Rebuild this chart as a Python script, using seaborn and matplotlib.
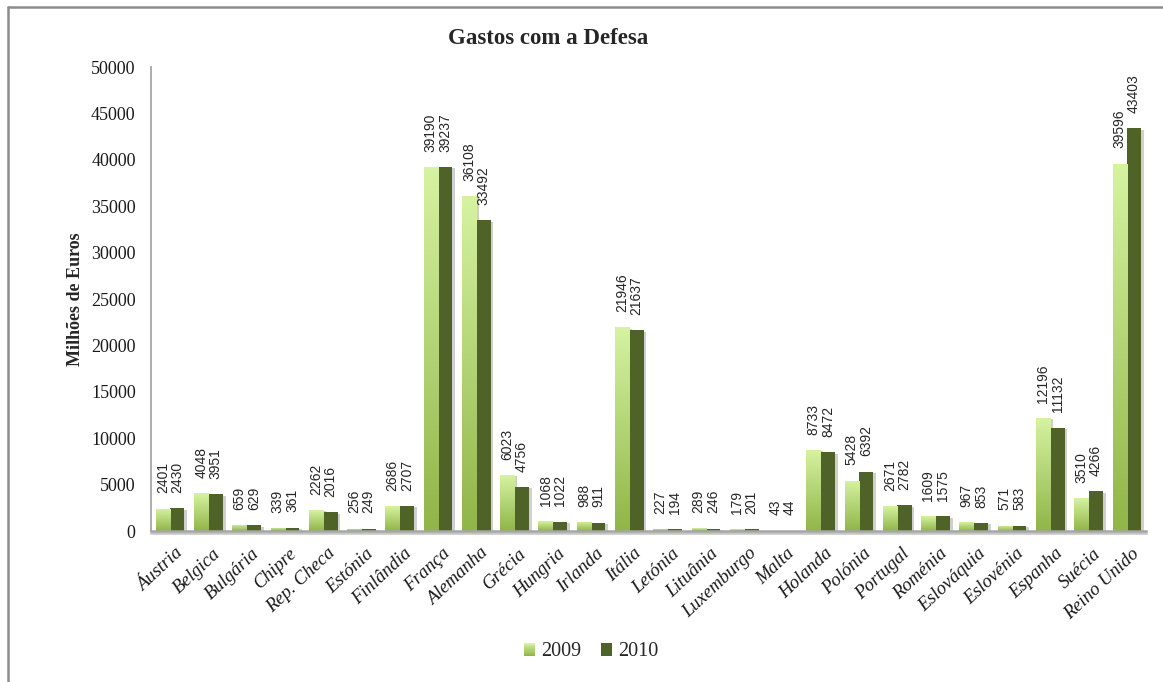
import numpy as np
import pandas as pd
import matplotlib
matplotlib.use("Agg")
import matplotlib.pyplot as plt
import matplotlib.patheffects as pe
import matplotlib.transforms as mtransforms
from matplotlib.patches import Rectangle
from matplotlib.lines import Line2D
from matplotlib.legend_handler import HandlerBase
from matplotlib.colors import to_rgb
import seaborn as sns

countries = ["Áustria", "Belgica", "Bulgária", "Chipre", "Rep. Checa", "Estónia",
             "Finlândia", "França", "Alemanha", "Grécia", "Hungria", "Irlanda",
             "Itália", "Letónia", "Lituânia", "Luxemburgo", "Malta", "Holanda",
             "Polónia", "Portugal", "Roménia", "Eslováquia", "Eslovénia", "Espanha",
             "Suécia", "Reino Unido"]
gastos_2009 = [2401, 4048, 659, 339, 2262, 256, 2686, 39190, 36108, 6023, 1068, 988,
               21946, 227, 289, 179, 43, 8733, 5428, 2671, 1609, 967, 571, 12196,
               3510, 39596]
gastos_2010 = [2430, 3951, 629, 361, 2016, 249, 2707, 39237, 33492, 4756, 1022, 911,
               21637, 194, 246, 201, 44, 8472, 6392, 2782, 1575, 853, 583, 11132,
               4266, 43403]
years = ["2009", "2010"]

df = pd.DataFrame({
    "pais": countries * 2,
    "ano": [years[0]] * len(countries) + [years[1]] * len(countries),
    "valor": gastos_2009 + gastos_2010,
})

LIGHT_TOP = "#d6f3a2"
LIGHT_BOTTOM = "#90b548"
DARK = "#4f6228"
SERIF = "Liberation Serif"

sns.set_theme(style="white")
plt.rcParams["font.family"] = ["Liberation Serif", "DejaVu Serif"]

fig = plt.figure(figsize=(11.63, 6.82), dpi=100)
ax = fig.add_axes([151 / 1163, 1 - 531 / 682, (1146 - 151) / 1163, (531 - 67) / 682])

sns.barplot(data=df, x="pais", y="valor", hue="ano", order=countries,
            hue_order=years, palette=[LIGHT_BOTTOM, DARK], width=0.75,
            saturation=1, legend=False, ax=ax, edgecolor="none", linewidth=0)

ax.set_ylim(0, 50000)
ax.set_xlim(-0.5, len(countries) - 0.5)
ax.set_yticks(np.arange(0, 50001, 5000))
ax.set_yticklabels([str(v) for v in range(0, 50001, 5000)], fontsize=13,
                   family=SERIF, color="#1a1a1a")
ax.tick_params(axis="y", length=0, pad=11)
ax.tick_params(axis="x", length=0, pad=10)
ax.set_xticks(range(len(countries)))
ax.set_xticklabels(countries, rotation=43, ha="right", va="top",
                   rotation_mode="anchor", fontsize=13.5, style="italic",
                   family=SERIF, color="#1a1a1a")
shift = mtransforms.ScaledTranslation(4 / 100, 0, fig.dpi_scale_trans)
for lbl in ax.get_xticklabels():
    lbl.set_transform(lbl.get_transform() + shift)
ax.set_xlabel("")
ax.set_ylabel("Milhões de Euros", fontsize=13, fontweight="bold", family=SERIF,
              labelpad=5)

for side in ["top", "right"]:
    ax.spines[side].set_visible(False)
ax.spines["left"].set_color("#a6a6a6")
ax.spines["left"].set_linewidth(1.3)
ax.spines["bottom"].set_color("#a6a6a6")
ax.spines["bottom"].set_linewidth(1.8)
ax.spines["bottom"].set_path_effects([pe.SimpleLineShadow(offset=(0, -1.5), alpha=0.25),
                                      pe.Normal()])

# vertical gradient for the 2009 series
n = 256
c_top = np.array(to_rgb(LIGHT_TOP))
c_bot = np.array(to_rgb(LIGHT_BOTTOM))
t = np.linspace(0, 1, n)[:, None]
grad = (c_top * (1 - t) + c_bot * t)[:, None, :]

shadow = [pe.SimplePatchShadow(offset=(2, -1), alpha=0.25, shadow_rgbFace="#404040"),
          pe.Normal()]

bars_2009 = ax.containers[0]
bars_2010 = ax.containers[1]
for bar in list(bars_2009) + list(bars_2010):
    bar.set_path_effects(shadow)
for bar in bars_2009:
    x0 = bar.get_x()
    w = bar.get_width()
    h = bar.get_height()
    im = ax.imshow(grad, extent=[x0, x0 + w, 0, h], aspect="auto",
                   origin="upper", zorder=bar.get_zorder() + 0.1, interpolation="bilinear")
    im.set_clip_path(bar)

ax.set_ylim(0, 50000)
ax.set_xlim(-0.5, len(countries) - 0.5)

# value labels above each bar
for container, vals in ((bars_2009, gastos_2009), (bars_2010, gastos_2010)):
    for bar, v in zip(container, vals):
        ax.annotate(str(v), (bar.get_x() + bar.get_width() / 2, bar.get_height()),
                    xytext=(0, 11), textcoords="offset points", rotation=90,
                    ha="center", va="bottom", fontsize=10,
                    family="Liberation Sans", color="#262626")

fig.text(548 / 1163, 1 - 38 / 682, "Gastos com a Defesa", ha="center", va="center",
         fontsize=16.5, fontweight="bold", family=SERIF)


class GradientHandler(HandlerBase):
    def __init__(self, top, bottom, strips=12):
        super().__init__()
        self.top = np.array(to_rgb(top))
        self.bottom = np.array(to_rgb(bottom))
        self.strips = strips

    def create_artists(self, legend, orig_handle, xdescent, ydescent, width, height,
                       fontsize, trans):
        arts = []
        for i in range(self.strips):
            f = i / (self.strips - 1)
            col = self.bottom * (1 - f) + self.top * f
            arts.append(Rectangle((-xdescent, -ydescent + height * i / self.strips),
                                  width, height / self.strips + 0.3,
                                  facecolor=col, edgecolor="none", transform=trans))
        return arts


h09 = Rectangle((0, 0), 1, 1)
h10 = Rectangle((0, 0), 1, 1, facecolor=DARK, edgecolor="none")
leg = fig.legend([h09, h10], years, loc="center", bbox_to_anchor=(591 / 1163, 1 - 652 / 682),
                 ncol=2, frameon=False, fontsize=14.5, handlelength=0.55, handleheight=0.6,
                 handletextpad=0.3, columnspacing=1.0,
                 handler_map={h09: GradientHandler(LIGHT_TOP, LIGHT_BOTTOM)})
for txt in leg.get_texts():
    txt.set_family(SERIF)

# outer chart frame
fig.add_artist(Line2D([8 / 1163, 8 / 1163], [0, 1 - 7 / 682], transform=fig.transFigure,
                      color="#8c8c8c", linewidth=1.8))
fig.add_artist(Line2D([8 / 1163, 1], [1 - 7 / 682, 1 - 7 / 682], transform=fig.transFigure,
                      color="#8c8c8c", linewidth=1.8))

fig.savefig("out.png", dpi=100, facecolor="white")
